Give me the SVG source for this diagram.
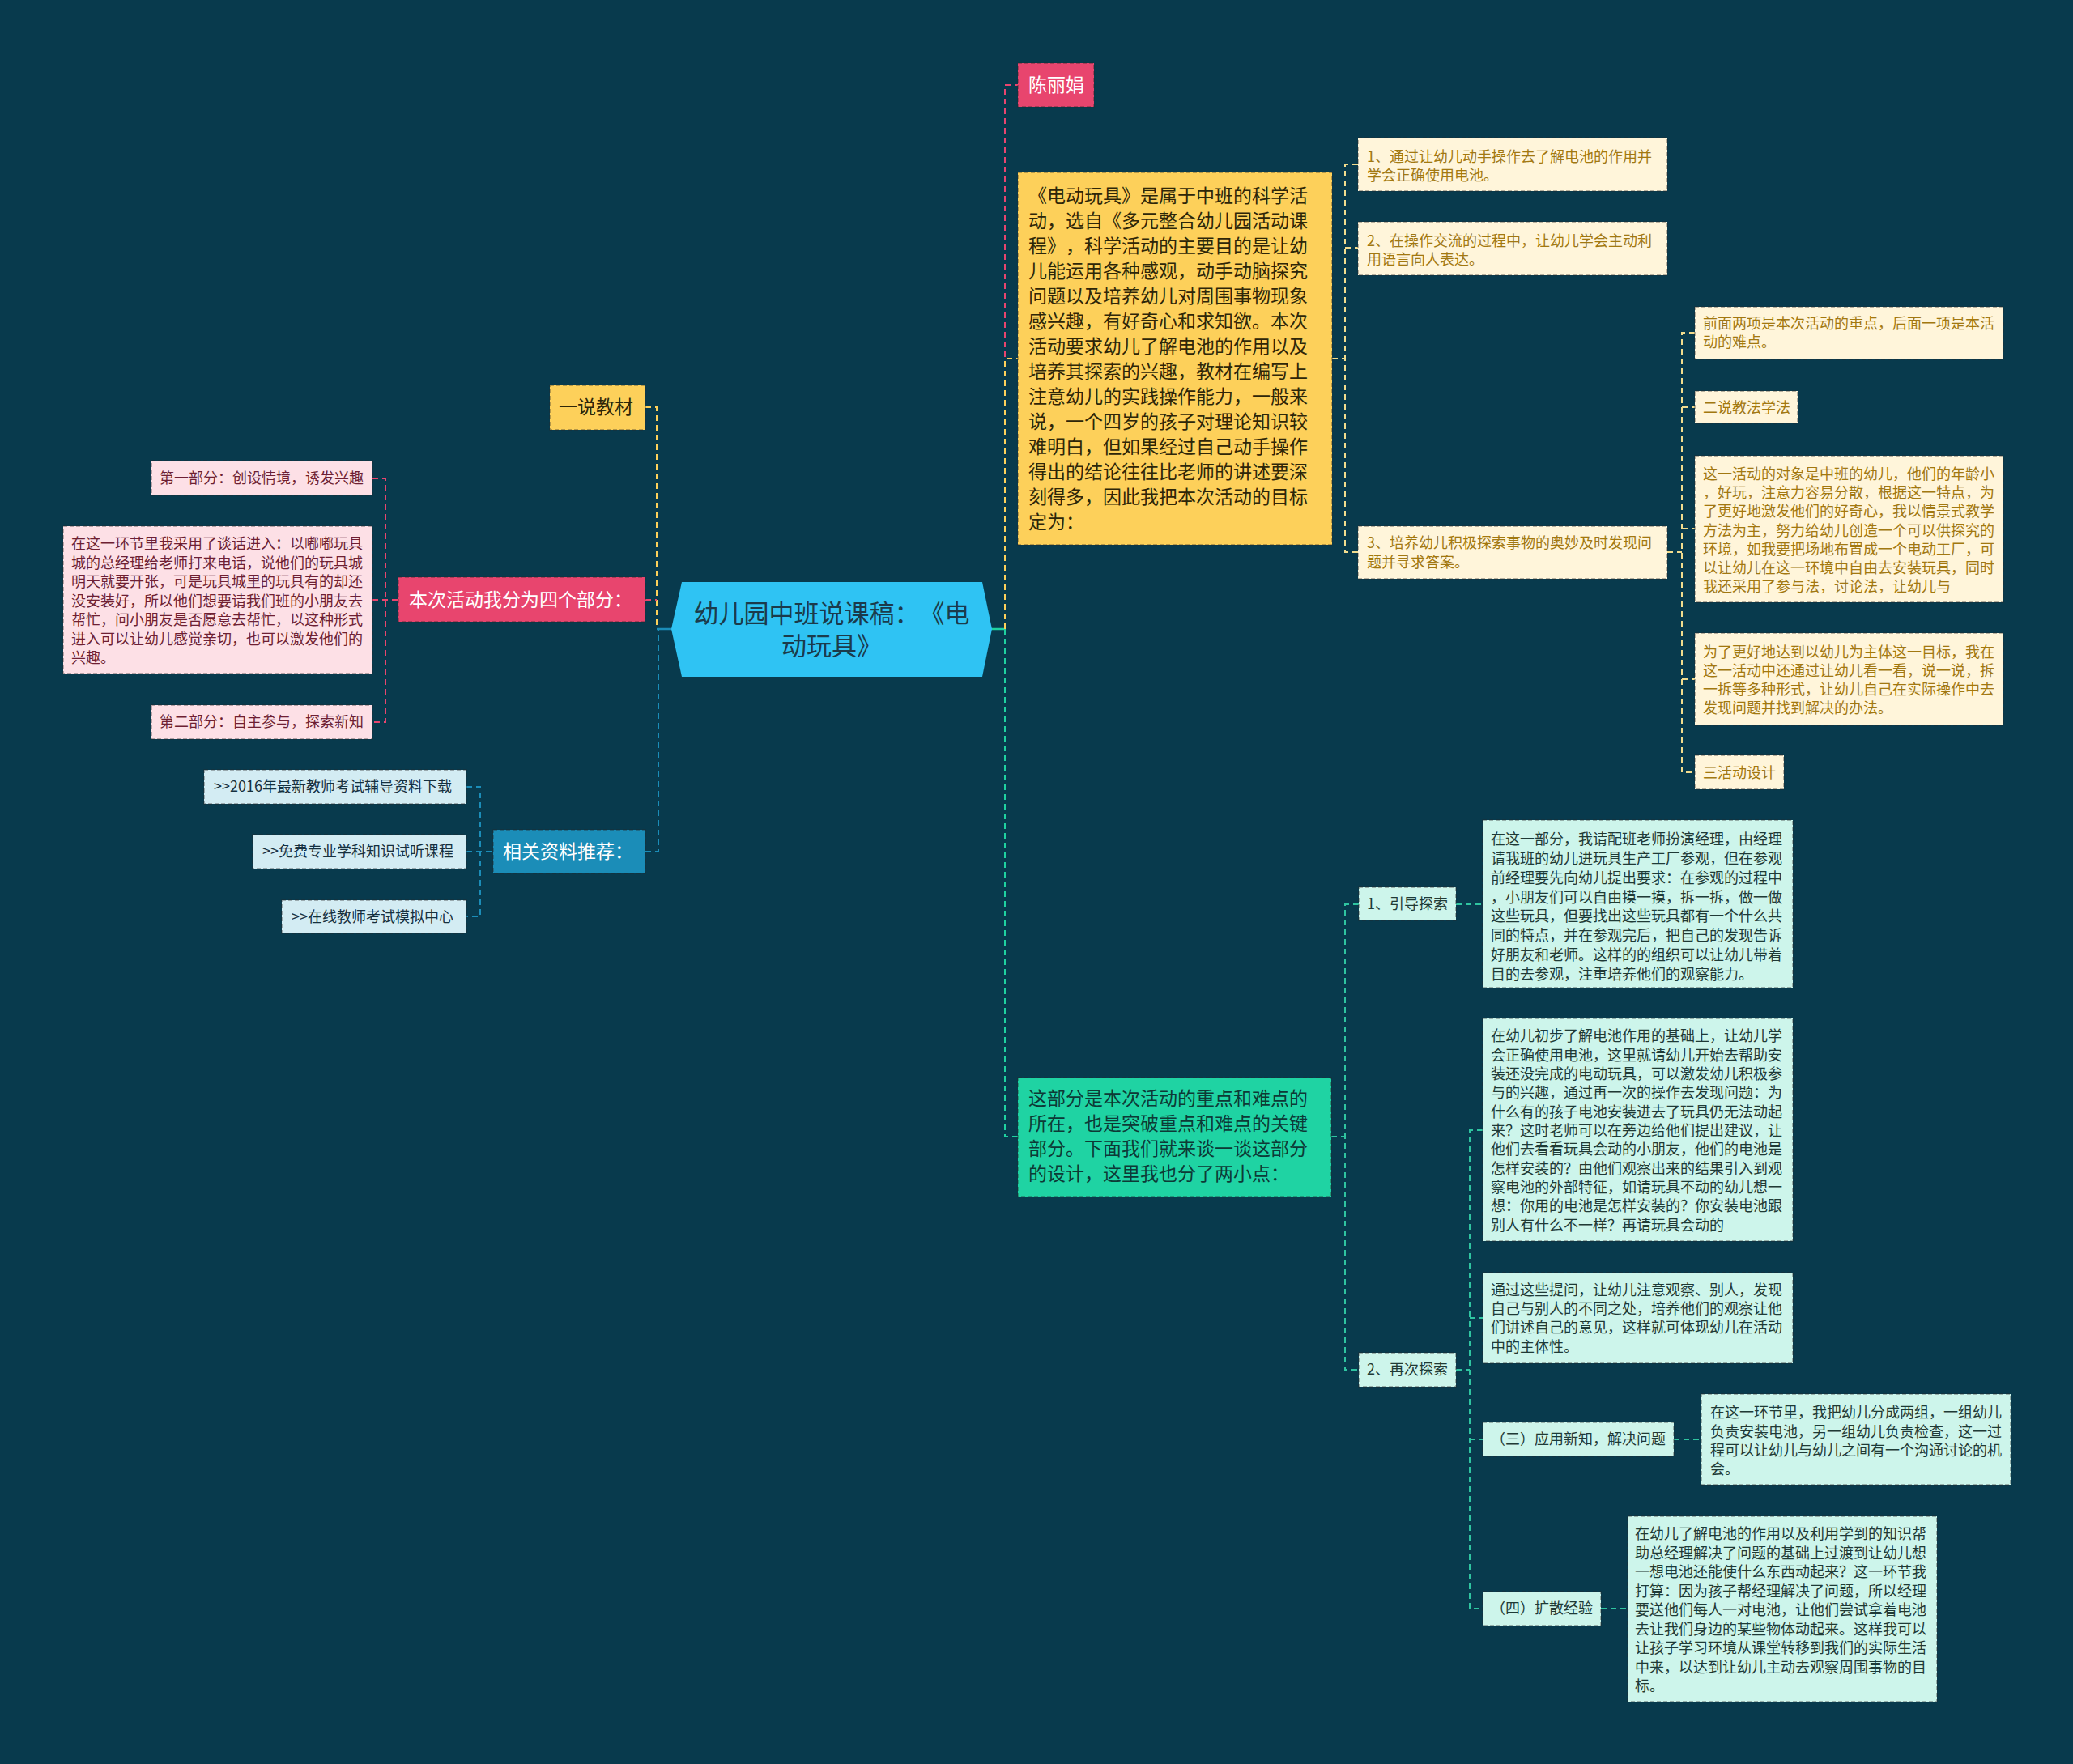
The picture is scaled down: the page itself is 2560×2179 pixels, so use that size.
<svg xmlns="http://www.w3.org/2000/svg" width="2560" height="2179" viewBox="0 0 2560 2179">
<style>
text{font-family:"Noto Sans CJK SC","Noto Sans",sans-serif;text-spacing-trim:space-all;}
.box{stroke:rgba(40,40,40,0.45);stroke-width:1.5;stroke-dasharray:5 3;}
.c{fill:none;stroke-width:2;stroke-dasharray:7 5;}
.t23{font-size:23px;}
.t18{font-size:18px;}
.cream{fill:#fff5da;}
.creamT{fill:#a27810;}
.lpink{fill:#fde0e6;}
.lpinkT{fill:#6e1f33;}
.lblue{fill:#d3ecf3;}
.lblueT{fill:#16303f;}
.mint{fill:#cdf5eb;}
.mintT{fill:#1f3a36;}
</style>
<rect x="0" y="0" width="2560" height="2179" fill="#083a4d"/>

<g id="connectors">
  <path class="c" d="M797,503 H811 V777" stroke="#fdd05a"/>
  <path class="c" d="M797,741 H811" stroke="#e8456e"/>
  <path class="c" d="M797,1052 H813 V777" stroke="#1b8db8"/>
  <path d="M811,777 H830" stroke="#1b8db8" stroke-width="2.5" fill="none"/>
  <path class="c" d="M460,591 H476 V892 H460" stroke="#e8456e"/>
  <path class="c" d="M460,741 H492" stroke="#e8456e"/>
  <path class="c" d="M576,972 H593 V1132 H576" stroke="#1b8db8"/>
  <path class="c" d="M576,1052 H609" stroke="#1b8db8"/>
  <path d="M1224,777 H1241" stroke="#1fd1a0" stroke-width="2.5" fill="none"/>
  <path class="c" d="M1241,777 V105 H1257" stroke="#e8456e"/>
  <path class="c" d="M1241,777 V443 H1257" stroke="#fdd05a"/>
  <path class="c" d="M1241,777 V1404 H1257" stroke="#1fd1a0"/>
  <path class="c" d="M1645,443 H1661" stroke="#f2dc8e"/>
  <path class="c" d="M1677,203 H1661 V682 H1677" stroke="#f2dc8e"/>
  <path class="c" d="M1661,306 H1677" stroke="#f2dc8e"/>
  <path class="c" d="M2059,682 H2077" stroke="#f2dc8e"/>
  <path class="c" d="M2093,411 H2077 V954 H2093" stroke="#f2dc8e"/>
  <path class="c" d="M2077,503 H2093 M2077,653 H2093 M2077,839 H2093" stroke="#f2dc8e"/>
  <path class="c" d="M1644,1404 H1661" stroke="#2fc4a0"/>
  <path class="c" d="M1678,1117 H1661 V1692 H1678" stroke="#2fc4a0"/>
  <path class="c" d="M1798,1117 H1831" stroke="#2fc4a0"/>
  <path class="c" d="M1798,1692 H1815" stroke="#2fc4a0"/>
  <path class="c" d="M1831,1396 H1815 V1987 H1831" stroke="#2fc4a0"/>
  <path class="c" d="M1815,1628 H1831 M1815,1778 H1831" stroke="#2fc4a0"/>
  <path class="c" d="M2067,1778 H2101" stroke="#2fc4a0"/>
  <path class="c" d="M1977,1987 H2010" stroke="#2fc4a0"/>
</g>

<g id="root">
  <polygon points="829,777 842,719 1213,719 1225,777 1213,836 842,836" fill="#2fc3f3"/>
  <text x="1027" y="769" font-size="31" fill="#1b3b4b" text-anchor="middle">幼儿园中班说课稿：《电</text>
  <text x="1027" y="809" font-size="31" fill="#1b3b4b" text-anchor="middle">动玩具》</text>
</g>

<g id="n-chen">
  <rect class="box" x="1257" y="78" width="94" height="54" fill="#e8456e"/>
  <text class="t23" x="1270" y="113" fill="#ffffff">陈丽娟</text>
</g>

<g id="n-yellow">
  <rect class="box" x="1257" y="213" width="388" height="460" fill="#fdd05a"/>
  <g class="t23" fill="#2e2608">
    <text x="1270" y="250">《电动玩具》是属于中班的科学活</text>
    <text x="1270" y="281">动，选自《多元整合幼儿园活动课</text>
    <text x="1270" y="312">程》，科学活动的主要目的是让幼</text>
    <text x="1270" y="343">儿能运用各种感观，动手动脑探究</text>
    <text x="1270" y="374">问题以及培养幼儿对周围事物现象</text>
    <text x="1270" y="405">感兴趣，有好奇心和求知欲。本次</text>
    <text x="1270" y="436">活动要求幼儿了解电池的作用以及</text>
    <text x="1270" y="467">培养其探索的兴趣，教材在编写上</text>
    <text x="1270" y="498">注意幼儿的实践操作能力，一般来</text>
    <text x="1270" y="529">说，一个四岁的孩子对理论知识较</text>
    <text x="1270" y="560">难明白，但如果经过自己动手操作</text>
    <text x="1270" y="591">得出的结论往往比老师的讲述要深</text>
    <text x="1270" y="622">刻得多，因此我把本次活动的目标</text>
    <text x="1270" y="653">定为：</text>
  </g>
</g>

<g id="n-goal1">
  <rect class="box cream" x="1677" y="170" width="382" height="66"/>
  <g class="t18 creamT">
    <text x="1688" y="200">1、通过让幼儿动手操作去了解电池的作用并</text>
    <text x="1688" y="223">学会正确使用电池。</text>
  </g>
</g>
<g id="n-goal2">
  <rect class="box cream" x="1677" y="274" width="382" height="66"/>
  <g class="t18 creamT">
    <text x="1688" y="304">2、在操作交流的过程中，让幼儿学会主动利</text>
    <text x="1688" y="327">用语言向人表达。</text>
  </g>
</g>
<g id="n-goal3">
  <rect class="box cream" x="1677" y="650" width="382" height="65"/>
  <g class="t18 creamT">
    <text x="1688" y="677">3、培养幼儿积极探索事物的奥妙及时发现问</text>
    <text x="1688" y="701">题并寻求答案。</text>
  </g>
</g>

<g id="n-key">
  <rect class="box cream" x="2093" y="379" width="381" height="65"/>
  <g class="t18 creamT">
    <text x="2103" y="406">前面两项是本次活动的重点，后面一项是本活</text>
    <text x="2103" y="429">动的难点。</text>
  </g>
</g>
<g id="n-method">
  <rect class="box cream" x="2093" y="483" width="127" height="40"/>
  <text class="t18 creamT" x="2103" y="510">二说教法学法</text>
</g>
<g id="n-object">
  <rect class="box cream" x="2093" y="563" width="381" height="181"/>
  <g class="t18 creamT">
    <text x="2103" y="592">这一活动的对象是中班的幼儿，他们的年龄小</text>
    <text x="2103" y="615">，好玩，注意力容易分散，根据这一特点，为</text>
    <text x="2103" y="638">了更好地激发他们的好奇心，我以情景式教学</text>
    <text x="2103" y="662">方法为主，努力给幼儿创造一个可以供探究的</text>
    <text x="2103" y="685">环境，如我要把场地布置成一个电动工厂，可</text>
    <text x="2103" y="708">以让幼儿在这一环境中自由去安装玩具，同时</text>
    <text x="2103" y="731">我还采用了参与法，讨论法，让幼儿与</text>
  </g>
</g>
<g id="n-subject">
  <rect class="box cream" x="2093" y="782" width="381" height="114"/>
  <g class="t18 creamT">
    <text x="2103" y="812">为了更好地达到以幼儿为主体这一目标，我在</text>
    <text x="2103" y="835">这一活动中还通过让幼儿看一看，说一说，拆</text>
    <text x="2103" y="858">一拆等多种形式，让幼儿自己在实际操作中去</text>
    <text x="2103" y="881">发现问题并找到解决的办法。</text>
  </g>
</g>
<g id="n-design">
  <rect class="box cream" x="2093" y="933" width="110" height="42"/>
  <text class="t18 creamT" x="2103" y="961">三活动设计</text>
</g>

<g id="n-material">
  <rect class="box" x="679" y="476" width="118" height="55" fill="#fdd05a"/>
  <text class="t23" x="690" y="511" fill="#2e2608">一说教材</text>
</g>
<g id="n-four">
  <rect class="box" x="492" y="713" width="305" height="55" fill="#e8456e"/>
  <text class="t23" x="505" y="749" fill="#ffffff">本次活动我分为四个部分：</text>
</g>
<g id="n-part1">
  <rect class="box lpink" x="187" y="569" width="273" height="43"/>
  <text class="t18 lpinkT" x="197" y="597">第一部分：创设情境，诱发兴趣</text>
</g>
<g id="n-talk">
  <rect class="box lpink" x="78" y="650" width="382" height="182"/>
  <g class="t18 lpinkT">
    <text x="88" y="678">在这一环节里我采用了谈话进入：以嘟嘟玩具</text>
    <text x="88" y="702">城的总经理给老师打来电话，说他们的玩具城</text>
    <text x="88" y="725">明天就要开张，可是玩具城里的玩具有的却还</text>
    <text x="88" y="749">没安装好，所以他们想要请我们班的小朋友去</text>
    <text x="88" y="772">帮忙，问小朋友是否愿意去帮忙，以这种形式</text>
    <text x="88" y="796">进入可以让幼儿感觉亲切，也可以激发他们的</text>
    <text x="88" y="819">兴趣。</text>
  </g>
</g>
<g id="n-part2">
  <rect class="box lpink" x="187" y="871" width="273" height="42"/>
  <text class="t18 lpinkT" x="197" y="898">第二部分：自主参与，探索新知</text>
</g>

<g id="n-related">
  <rect class="box" x="609" y="1025" width="188" height="54" fill="#1b8db8"/>
  <text class="t23" x="621" y="1060" fill="#ffffff">相关资料推荐：</text>
</g>
<g id="n-link1">
  <rect class="box lblue" x="252" y="951" width="324" height="42"/>
  <text class="t18 lblueT" x="264" y="978">&gt;&gt;2016年最新教师考试辅导资料下载</text>
</g>
<g id="n-link2">
  <rect class="box lblue" x="312" y="1031" width="264" height="42"/>
  <text class="t18 lblueT" x="324" y="1058">&gt;&gt;免费专业学科知识试听课程</text>
</g>
<g id="n-link3">
  <rect class="box lblue" x="348" y="1112" width="228" height="41"/>
  <text class="t18 lblueT" x="360" y="1139">&gt;&gt;在线教师考试模拟中心</text>
</g>

<g id="n-green">
  <rect class="box" x="1257" y="1331" width="387" height="147" fill="#1fd3a3"/>
  <g class="t23" fill="#0d3a36">
    <text x="1270" y="1365">这部分是本次活动的重点和难点的</text>
    <text x="1270" y="1396">所在，也是突破重点和难点的关键</text>
    <text x="1270" y="1427">部分。下面我们就来谈一谈这部分</text>
    <text x="1270" y="1458">的设计，这里我也分了两小点：</text>
  </g>
</g>

<g id="n-guide">
  <rect class="box mint" x="1678" y="1096" width="120" height="41"/>
  <text class="t18 mintT" x="1688" y="1123">1、引导探索</text>
</g>
<g id="n-guide-text">
  <rect class="box mint" x="1831" y="1013" width="383" height="207"/>
  <g class="t18 mintT">
    <text x="1841" y="1043">在这一部分，我请配班老师扮演经理，由经理</text>
    <text x="1841" y="1067">请我班的幼儿进玩具生产工厂参观，但在参观</text>
    <text x="1841" y="1091">前经理要先向幼儿提出要求：在参观的过程中</text>
    <text x="1841" y="1115">，小朋友们可以自由摸一摸，拆一拆，做一做</text>
    <text x="1841" y="1138">这些玩具，但要找出这些玩具都有一个什么共</text>
    <text x="1841" y="1162">同的特点，并在参观完后，把自己的发现告诉</text>
    <text x="1841" y="1186">好朋友和老师。这样的的组织可以让幼儿带着</text>
    <text x="1841" y="1210">目的去参观，注重培养他们的观察能力。</text>
  </g>
</g>

<g id="n-again">
  <rect class="box mint" x="1678" y="1671" width="120" height="42"/>
  <text class="t18 mintT" x="1688" y="1698">2、再次探索</text>
</g>
<g id="n-again-text1">
  <rect class="box mint" x="1831" y="1258" width="383" height="275"/>
  <g class="t18 mintT">
    <text x="1841" y="1286">在幼儿初步了解电池作用的基础上，让幼儿学</text>
    <text x="1841" y="1310">会正确使用电池，这里就请幼儿开始去帮助安</text>
    <text x="1841" y="1333">装还没完成的电动玩具，可以激发幼儿积极参</text>
    <text x="1841" y="1356">与的兴趣，通过再一次的操作去发现问题：为</text>
    <text x="1841" y="1380">什么有的孩子电池安装进去了玩具仍无法动起</text>
    <text x="1841" y="1403">来？这时老师可以在旁边给他们提出建议，让</text>
    <text x="1841" y="1426">他们去看看玩具会动的小朋友，他们的电池是</text>
    <text x="1841" y="1450">怎样安装的？由他们观察出来的结果引入到观</text>
    <text x="1841" y="1473">察电池的外部特征，如请玩具不动的幼儿想一</text>
    <text x="1841" y="1496">想：你用的电池是怎样安装的？你安装电池跟</text>
    <text x="1841" y="1520">别人有什么不一样？再请玩具会动的</text>
  </g>
</g>
<g id="n-again-text2">
  <rect class="box mint" x="1831" y="1572" width="383" height="112"/>
  <g class="t18 mintT">
    <text x="1841" y="1600">通过这些提问，让幼儿注意观察、别人，发现</text>
    <text x="1841" y="1623">自己与别人的不同之处，培养他们的观察让他</text>
    <text x="1841" y="1646">们讲述自己的意见，这样就可体现幼儿在活动</text>
    <text x="1841" y="1670">中的主体性。</text>
  </g>
</g>
<g id="n-apply">
  <rect class="box mint" x="1831" y="1757" width="236" height="42"/>
  <text class="t18 mintT" x="1841" y="1784">（三）应用新知，解决问题</text>
</g>
<g id="n-apply-text">
  <rect class="box mint" x="2101" y="1722" width="382" height="112"/>
  <g class="t18 mintT">
    <text x="2112" y="1751">在这一环节里，我把幼儿分成两组，一组幼儿</text>
    <text x="2112" y="1775">负责安装电池，另一组幼儿负责检查，这一过</text>
    <text x="2112" y="1798">程可以让幼儿与幼儿之间有一个沟通讨论的机</text>
    <text x="2112" y="1821">会。</text>
  </g>
</g>
<g id="n-extend">
  <rect class="box mint" x="1831" y="1966" width="146" height="42"/>
  <text class="t18 mintT" x="1841" y="1993">（四）扩散经验</text>
</g>
<g id="n-extend-text">
  <rect class="box mint" x="2010" y="1873" width="382" height="229"/>
  <g class="t18 mintT">
    <text x="2019" y="1901">在幼儿了解电池的作用以及利用学到的知识帮</text>
    <text x="2019" y="1925">助总经理解决了问题的基础上过渡到让幼儿想</text>
    <text x="2019" y="1948">一想电池还能使什么东西动起来？这一环节我</text>
    <text x="2019" y="1972">打算：因为孩子帮经理解决了问题，所以经理</text>
    <text x="2019" y="1995">要送他们每人一对电池，让他们尝试拿着电池</text>
    <text x="2019" y="2019">去让我们身边的某些物体动起来。这样我可以</text>
    <text x="2019" y="2042">让孩子学习环境从课堂转移到我们的实际生活</text>
    <text x="2019" y="2066">中来，以达到让幼儿主动去观察周围事物的目</text>
    <text x="2019" y="2089">标。</text>
  </g>
</g>
</svg>
